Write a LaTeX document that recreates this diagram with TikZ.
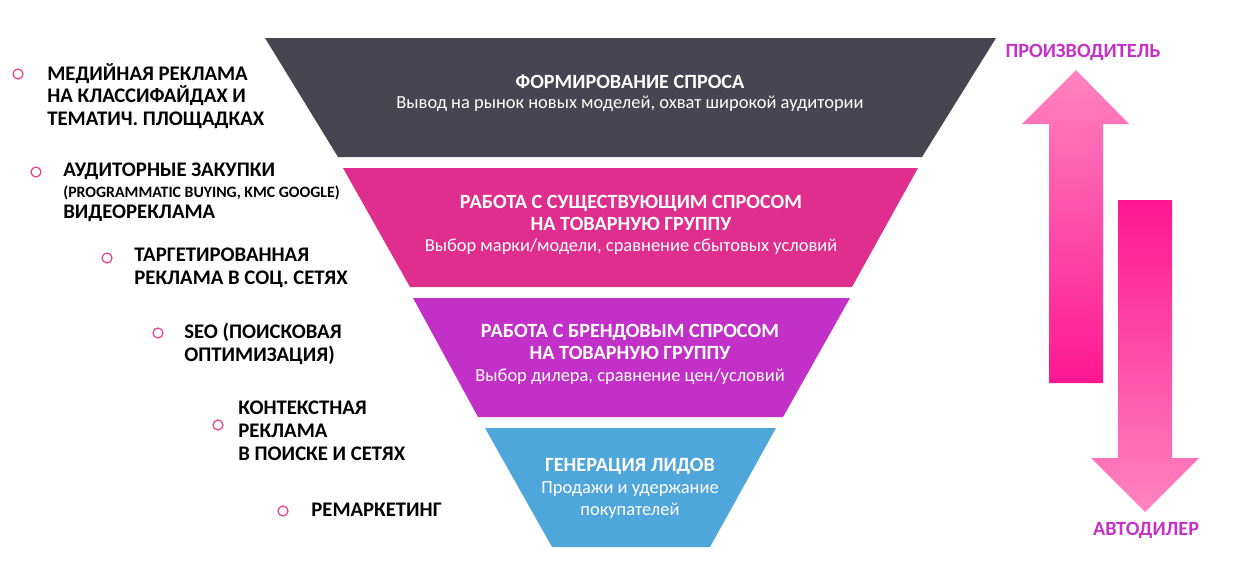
\documentclass[tikz,border=0pt]{standalone}
\usepackage{fontspec}
\setmainfont{Carlito}
\usepackage{xcolor}
\usetikzlibrary{positioning}

\definecolor{formdark}{RGB}{70,69,80}
\definecolor{existpink}{RGB}{224,46,142}
\definecolor{brandviolet}{RGB}{195,48,200}
\definecolor{leadblue}{RGB}{79,166,219}
\definecolor{bulletpink}{RGB}{232,64,150}
\definecolor{sidelabel}{RGB}{198,50,200}
\definecolor{arrowlight}{RGB}{255,132,192}
\definecolor{arrowdeep}{RGB}{255,22,145}

\begin{document}
\begin{tikzpicture}[
    x=0.02cm, y=-0.02cm,
    head/.style={text=white, align=center, font=\bfseries\fontsize{11.5}{12.5}\selectfont},
    sub/.style={text=white, align=center, font=\fontsize{10.5}{12.5}\selectfont},
    item/.style={anchor=west, align=left, inner sep=0pt, font=\bfseries\fontsize{11.8}{13}\selectfont},
    dot/.style={circle, draw=bulletpink, line width=0.7pt, minimum size=0.2cm, inner sep=0pt},
    side/.style={text=sidelabel, font=\bfseries\fontsize{11.5}{13}\selectfont},
]
    \useasboundingbox (0,0) rectangle (1244,575);

    % Funnel
    \fill[formdark] (265,38) -- (996,38) -- (922,157) -- (338,157) -- cycle;
    \fill[existpink] (343,168) -- (918,168) -- (852,287) -- (410,287) -- cycle;
    \fill[brandviolet] (413,298) -- (850,298) -- (783,417) -- (478,417) -- cycle;
    \fill[leadblue] (485,428) -- (776,428) -- (710,547) -- (552,547) -- cycle;

    \node[head] (form) at (630,82) {ФОРМИРОВАНИЕ СПРОСА};
    \node[sub] (formsub) at (630,104) {Вывод на рынок новых моделей, охват широкой аудитории};

    \node[head] (exist) at (631,213) {РАБОТА С СУЩЕСТВУЮЩИМ СПРОСОМ\\НА ТОВАРНУЮ ГРУППУ};
    \node[sub] (existsub) at (631,247) {Выбор марки/модели, сравнение сбытовых условий};

    \node[head] (brand) at (630,342) {РАБОТА С БРЕНДОВЫМ СПРОСОМ\\НА ТОВАРНУЮ ГРУППУ};
    \node[sub] (brandsub) at (630,377) {Выбор дилера, сравнение цен/условий};

    \node[head] (lead) at (630,466) {ГЕНЕРАЦИЯ ЛИДОВ};
    \node[sub] (leadsub) at (630,500) {Продажи и удержание\\покупателей};

    % Channels
    \node[dot] (b1) at (18,74) {};
    \node[item] (media) at (47,96) {МЕДИЙНАЯ РЕКЛАМА\\НА КЛАССИФАЙДАХ И\\ТЕМАТИЧ. ПЛОЩАДКАХ};

    \node[dot] (b2) at (36,172) {};
    \node[item] (audience) at (63,192) {АУДИТОРНЫЕ ЗАКУПКИ\\[-1pt]{\fontsize{9}{10}\selectfont (PROGRAMMATIC BUYING, KMC GOOGLE)}\\[-1pt]ВИДЕОРЕКЛАМА};

    \node[dot] (b3) at (107,258) {};
    \node[item] (target) at (134,268) {ТАРГЕТИРОВАННАЯ\\РЕКЛАМА В СОЦ. СЕТЯХ};

    \node[dot] (b4) at (158,333) {};
    \node[item] (seo) at (184,344) {SEO (ПОИСКОВАЯ\\ОПТИМИЗАЦИЯ)};

    \node[dot] (b5) at (218,425) {};
    \node[item] (context) at (238,431) {КОНТЕКСТНАЯ\\РЕКЛАМА\\В ПОИСКЕ И СЕТЯХ};

    \node[dot] (b6) at (283,511) {};
    \node[item] (remark) at (311,510) {РЕМАРКЕТИНГ};

    % Direction arrows
    \shade[top color=arrowlight, bottom color=arrowdeep]
        (1049,383) -- (1049,124) -- (1022,124) -- (1076,70) -- (1129,124) -- (1103,124) -- (1103,383) -- cycle;
    \shade[top color=arrowdeep, bottom color=arrowlight]
        (1118,200) -- (1172,200) -- (1172,458) -- (1199,458) -- (1145,512) -- (1091,458) -- (1118,458) -- cycle;

    \node[side] (maker) at (1083,52) {ПРОИЗВОДИТЕЛЬ};
    \node[side] (dealer) at (1146,530) {АВТОДИЛЕР};
\end{tikzpicture}
\end{document}
